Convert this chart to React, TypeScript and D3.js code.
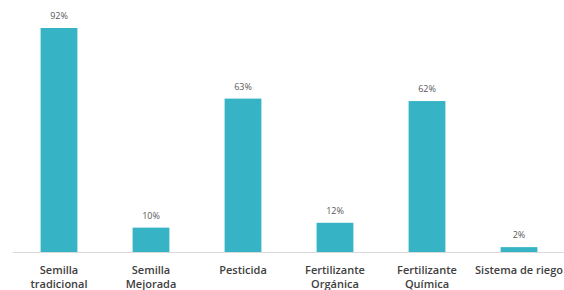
import React from "react";
import { scaleBand, scaleLinear } from "d3";

const categories = [
  ["Semilla", "tradicional"],
  ["Semilla", "Mejorada"],
  ["Pesticida"],
  ["Fertilizante", "Orgánica"],
  ["Fertilizante", "Química"],
  ["Sistema de riego"],
];
const values = [92, 10, 63, 12, 62, 2];

const App = () => {
  const width = 564;
  const height = 290;
  const baseline = 252;

  const xScale = scaleBand<number>()
    .domain(values.map((_, i) => i))
    .range([13, 565])
    .paddingInner(0.6)
    .paddingOuter(0.3);

  const yScale = scaleLinear().domain([0, 92]).range([baseline, 28]);

  return (
    <svg
      width={width}
      height={height}
      style={{ position: "absolute", left: 0, top: 0 }}
      fontFamily="'Open Sans', sans-serif"
    >
      <rect width={width} height={height} fill="#fff" />
      {values.map((v, i) => (
        <g key={i}>
          <rect
            x={xScale(i)}
            y={yScale(v)}
            width={xScale.bandwidth()}
            height={baseline - yScale(v)}
            fill="#36B3C5"
          />
          <text
            x={xScale(i)! + xScale.bandwidth() / 2}
            y={yScale(v) - 9}
            textAnchor="middle"
            fontSize={9}
            fill="#595959"
          >
            {v}%
          </text>
          {categories[i].map((line, j) => (
            <text
              key={j}
              x={xScale(i)! + xScale.bandwidth() / 2}
              y={274 + j * 14}
              textAnchor="middle"
              fontSize={11}
              fontWeight={600}
              fill="#404040"
            >
              {line}
            </text>
          ))}
        </g>
      ))}
      <line x1={13} x2={564} y1={baseline + 0.5} y2={baseline + 0.5} stroke="#d9d9d9" />
    </svg>
  );
};

export default App;
